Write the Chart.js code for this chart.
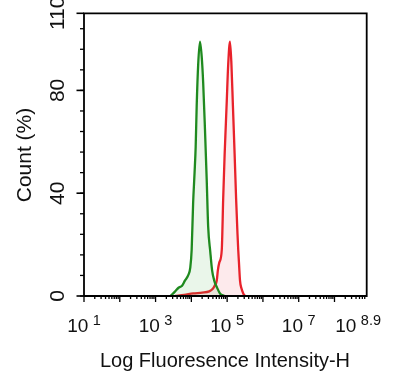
<!DOCTYPE html>
<html>
<head>
<meta charset="utf-8">
<script src="https://cdn.jsdelivr.net/npm/chart.js@4"></script>
<style>
  body { margin: 0; background: #fff; }
  #wrap { width: 400px; height: 373px; }
</style>
</head>
<body>
<div id="wrap"><canvas id="histChart"></canvas></div>
<script>
// Data histogram (intensitas, count %)
const greenX = [2630, 3470, 4470, 5500, 6610, 8130, 9330, 10200, 11200, 12300, 13200, 14100, 15500, 17400,
    19500, 21400, 24000, 26900, 29500, 33900, 38000, 43600, 51300, 63100, 83200];
const greenY = [0, 1.7, 3.3, 4, 6, 8, 11, 18, 36, 48, 58, 74, 90, 99,
    93, 83, 65, 45, 27, 17, 10, 6, 3.5, 1, 0];

const redX = [3550, 6310, 11200, 20000, 31600, 39800, 44700, 51300, 55000, 60300, 70800, 77600, 85100, 89100,
    97700, 107000, 120000, 132000, 145000, 162000, 178000, 195000, 204000, 214000, 229000, 251000, 282000, 316000];
const redY = [0, 0.4, 1, 1.3, 1.8, 2.8, 4, 6, 10, 13, 18, 38, 55, 62,
    76, 90, 99, 90, 74, 55, 38, 24, 18, 13, 6, 3, 1, 0];

// Sumbu
const xMin = 10;
const xMax = Math.pow(10, 8.9);
const xTickExps = [1, 3, 5, 7, 8.9];
const xTickLabels = ['1', '3', '5', '7', '8.9'];
const yTickLabels = [0, 40, 80, 110];
const yMinorStep = 8;
const xTitle = 'Log Fluoresence Intensity-H';
const yTitle = 'Count (%)';

function toPoints(xs, ys) {
    return xs.map((x, i) => ({ x: x, y: ys[i] }));
}

const FONT = '"Liberation Sans", Arial, sans-serif';

// Plugin untuk menggambar sumbu, tick dan label sendiri
const axesPlugin = {
    id: 'axesPlugin',
    afterDraw(chart) {
        const ctx = chart.ctx;
        const xs = chart.scales.x;
        const ys = chart.scales.y;
        const a = chart.chartArea;
        ctx.save();
        ctx.strokeStyle = '#000';
        ctx.fillStyle = '#111';
        ctx.lineWidth = 1.8;

        // kotak plot
        ctx.beginPath();
        ctx.moveTo(a.left, a.bottom);
        ctx.lineTo(a.left, a.top);
        ctx.lineTo(a.right, a.top);
        ctx.lineTo(a.right, a.bottom);
        ctx.lineTo(a.left, a.bottom);
        ctx.stroke();

        // tick Y
        ctx.lineWidth = 1.3;
        for (let v = 0; v <= 110; v += yMinorStep) {
            const py = ys.getPixelForValue(v);
            ctx.beginPath();
            ctx.moveTo(a.left - 4, py);
            ctx.lineTo(a.left, py);
            ctx.stroke();
        }
        yTickLabels.forEach(v => {
            const py = ys.getPixelForValue(v);
            ctx.lineWidth = 1.6;
            ctx.beginPath();
            ctx.moveTo(a.left - 7.5, py);
            ctx.lineTo(a.left, py);
            ctx.stroke();
            ctx.save();
            ctx.translate(58, py);
            ctx.rotate(-Math.PI / 2);
            ctx.font = '21px ' + FONT;
            ctx.textAlign = 'center';
            ctx.textBaseline = 'middle';
            ctx.fillText(String(v), 0, 0);
            ctx.restore();
        });

        // tick X (dekade + minor)
        ctx.lineWidth = 1.3;
        for (let d = 1; d <= 8; d++) {
            for (let m = 1; m <= 9; m++) {
                const val = m * Math.pow(10, d);
                if (val > xMax) break;
                const px = xs.getPixelForValue(val);
                ctx.beginPath();
                ctx.moveTo(px, a.bottom);
                ctx.lineTo(px, a.bottom + (m === 1 ? 6 : 3));
                ctx.stroke();
            }
        }

        xTickExps.forEach((e, i) => {
            const px = xs.getPixelForValue(Math.pow(10, e));
            ctx.font = '19px ' + FONT;
            const wMain = ctx.measureText('10').width;
            ctx.font = '14.5px ' + FONT;
            const wSup = ctx.measureText(xTickLabels[i]).width;
            const gap = 4.5;
            const total = wMain + gap + wSup;
            let start = px - total / 2;
            if (start + total > 381) start = 381 - total;
            ctx.textAlign = 'left';
            ctx.textBaseline = 'alphabetic';
            ctx.font = '19px ' + FONT;
            ctx.fillText('10', start, 331.5);
            ctx.font = '14.5px ' + FONT;
            ctx.fillText(xTickLabels[i], start + wMain + gap, 325);
        });

        // judul sumbu
        ctx.font = '20px ' + FONT;
        ctx.textAlign = 'center';
        ctx.textBaseline = 'alphabetic';
        ctx.fillText(xTitle, 225, 367);

        ctx.save();
        ctx.translate(25, 155);
        ctx.rotate(-Math.PI / 2);
        ctx.font = '21px ' + FONT;
        ctx.textBaseline = 'middle';
        ctx.fillText(yTitle, 0, 0);
        ctx.restore();

        ctx.restore();
    }
};

new Chart(document.getElementById('histChart').getContext('2d'), {
    type: 'line',
    data: {
        datasets: [
            {
                label: 'Green',
                data: toPoints(greenX, greenY),
                borderColor: '#1f8a1f',
                backgroundColor: 'rgba(60, 170, 60, 0.11)',
                borderWidth: 2.3,
                fill: 'origin',
                pointRadius: 0,
                cubicInterpolationMode: 'monotone'
            },
            {
                label: 'Red',
                data: toPoints(redX, redY),
                borderColor: '#e8222b',
                backgroundColor: 'rgba(235, 60, 80, 0.11)',
                borderWidth: 2.3,
                fill: 'origin',
                pointRadius: 0,
                cubicInterpolationMode: 'monotone'
            }
        ]
    },
    options: {
        responsive: true,
        maintainAspectRatio: false,
        animation: false,
        layout: { padding: { left: 84, right: 33.3, top: 13.3, bottom: 77 } },
        plugins: { legend: { display: false }, tooltip: { enabled: false } },
        scales: {
            x: { type: 'logarithmic', min: xMin, max: xMax, display: false },
            y: { type: 'linear', min: 0, max: 110, display: false }
        }
    },
    plugins: [axesPlugin]
});
</script>
</body>
</html>
